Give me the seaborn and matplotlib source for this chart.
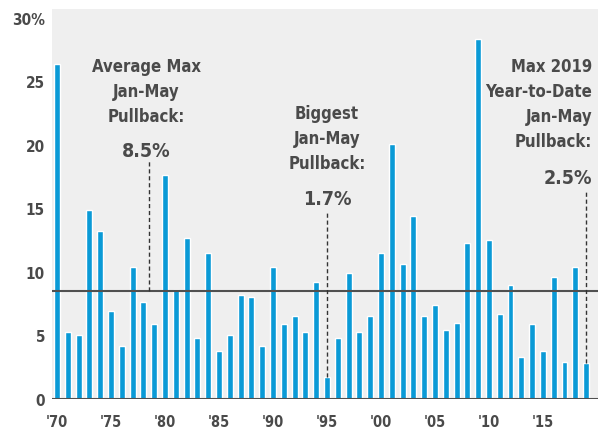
import numpy as np
import pandas as pd
import matplotlib
matplotlib.use("Agg")
import matplotlib.pyplot as plt
import seaborn as sns

# Max Jan-May pullback per year, 1970-2019 (%)
years = list(range(1970, 2020))
pullback = [26.4, 5.3, 5.0, 14.9, 13.2, 6.9, 4.2, 10.4, 7.6, 5.9,
            17.6, 8.6, 12.7, 4.8, 11.5, 3.8, 5.0, 8.2, 8.0, 4.2,
            10.4, 5.9, 6.5, 5.3, 9.2, 1.7, 4.8, 9.9, 5.3, 6.5,
            11.5, 20.1, 10.6, 14.4, 6.5, 7.4, 5.4, 6.0, 12.3, 28.3,
            12.5, 6.7, 9.0, 3.3, 5.9, 3.8, 9.6, 2.9, 10.4, 2.8]
avg_pullback = 8.5
tick_years = [1970, 1975, 1980, 1985, 1990, 1995, 2000, 2005, 2010, 2015]
tick_labels = ["'70", "'75", "'80", "'85", "'90", "'95", "'00", "'05", "'10", "'15"]
y_ticks = [0, 5, 10, 15, 20, 25, 30]
y_labels = ["0", "5", "10", "15", "20", "25", "30%"]

df = pd.DataFrame({"year": years, "pullback": pullback})

sns.set_style("white")
plt.rcParams["font.family"] = ["DejaVu Sans"]
plt.rcParams["font.stretch"] = "condensed"
plt.rcParams["font.weight"] = "bold"

txt = "#4a4a4a"
blue = "#0a9ad6"

fig = plt.figure(figsize=(5.98, 4.35), dpi=100)
ax = fig.add_axes([52 / 598, 35 / 435, 546 / 598, 390 / 435])
ax.set_facecolor("#efefef")

sns.barplot(data=df, x="year", y="pullback", color=blue, width=0.55,
            saturation=1, ax=ax)

ax.axhline(avg_pullback, color="#505050", lw=1.5, zorder=3)
ax.axhline(0, color="#505050", lw=1.5, zorder=3)

ax.set_xlim(-0.46, 50.1)
ax.set_ylim(0, 30.7)
ax.set_xticks([years.index(y) for y in tick_years])
ax.set_xticklabels(tick_labels, fontsize=10.5, color=txt)
ax.set_yticks(y_ticks)
ax.set_yticklabels(y_labels, fontsize=11, color=txt)
ax.tick_params(axis="both", length=0)
ax.tick_params(axis="x", pad=11)
ax.tick_params(axis="y", pad=5)
ax.set_xlabel("")
ax.set_ylabel("")
for s in ax.spines.values():
    s.set_visible(False)

dash = dict(color="#333333", lw=1, ls=(0, (3, 2)), zorder=4)
note = dict(fontsize=12, color=txt, linespacing=1.5, va="top")
val = dict(fontsize=14, color=txt, va="center")

# Average
xa = years.index(1978) + 0.5
ax.text(xa - 0.2, 26.9, "Average Max\nJan-May\nPullback:", ha="center", **note)
ax.text(xa - 0.2, 19.6, f"{avg_pullback}%", ha="center", **val)
ax.plot([xa] * 2, [avg_pullback, 18.7], **dash)

# Biggest (lowest) pullback
i95 = years.index(1995)
ax.text(i95, 23.2, "Biggest\nJan-May\nPullback:", ha="center", **note)
ax.text(i95, 15.8, f"{pullback[i95]}%", ha="center", **val)
ax.plot([i95] * 2, [pullback[i95], 14.8], **dash)

# 2019 YTD
i19 = years.index(2019)
ax.text(i19 + 0.55, 26.9, "Max 2019\nYear-to-Date\nJan-May\nPullback:",
        ha="right", **note)
ax.text(i19 + 0.55, 17.4, "2.5%", ha="right", **val)
ax.plot([i19] * 2, [pullback[i19], 16.4], **dash)

fig.savefig("out.png", dpi=100, facecolor="white")
